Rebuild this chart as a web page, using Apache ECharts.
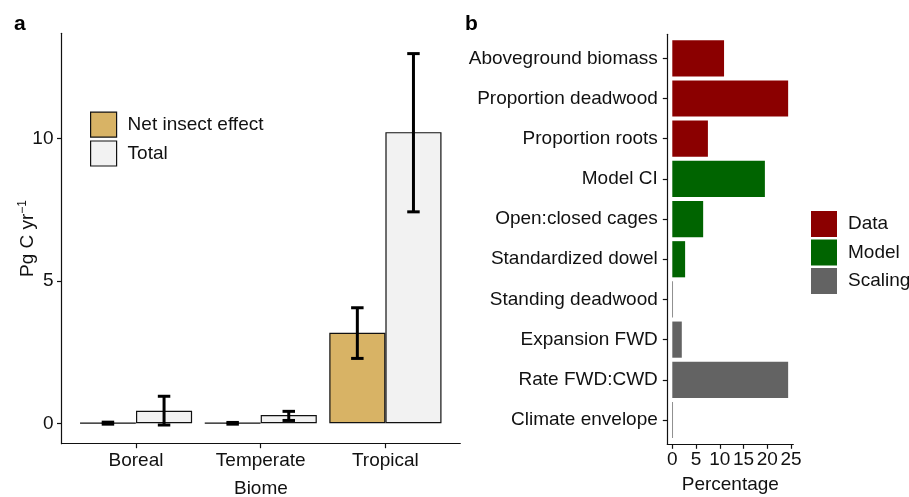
<!DOCTYPE html>
<html>
<head>
<meta charset="utf-8">
<script src="https://cdn.jsdelivr.net/npm/echarts@6/dist/echarts.min.js"></script>
<style>
  html, body { margin: 0; padding: 0; background: #ffffff; }
  #chart { width: 909px; height: 497px; }
</style>
</head>
<body>
<div id="chart"></div>
<script>
// Panel a: annual carbon flux by biome
const biomes = ['Boreal', 'Temperate', 'Tropical'];
const netEffect = [0.01, 0.01, 3.18];
const netLow = [-0.03, -0.03, 2.28];
const netHigh = [0.04, 0.03, 4.06];
const totalFlux = [0.44, 0.29, 10.23];
const totalLow = [-0.06, 0.10, 7.43];
const totalHigh = [0.95, 0.42, 12.99];

// Panel b: contribution of each uncertainty source
const sources = ['Aboveground biomass', 'Proportion deadwood', 'Proportion roots', 'Model CI',
  'Open:closed cages', 'Standardized dowel', 'Standing deadwood', 'Expansion FWD',
  'Rate FWD:CWD', 'Climate envelope'];
const sourceGroup = ['Data', 'Data', 'Data', 'Model', 'Model', 'Model',
  'Scaling', 'Scaling', 'Scaling', 'Scaling'];
const percentage = [10.9, 24.4, 7.5, 19.5, 6.5, 2.7, 0.15, 2.0, 24.4, 0.15];
const groupNames = ['Data', 'Model', 'Scaling'];
const groupColors = ['#8B0000', '#006400', '#636363'];

const FONT = '"Liberation Sans", Arial, Helvetica, sans-serif';
const INK = '#111111';
const FS = 19;

const chart = echarts.init(document.getElementById('chart'), null, { renderer: 'canvas' });

const lineOnly = { show: true, onZero: false, lineStyle: { color: INK, width: 1.2 } };
const noLine = { show: false, onZero: false };
const hidden = { show: false };

// error bar rows: [category index, low, high, dodge slot]
const errRows = [];
biomes.forEach((_, i) => {
  errRows.push([i, netLow[i], netHigh[i], 0]);
  errRows.push([i, totalLow[i], totalHigh[i], 1]);
});

// grids keep their exact box even when labels reach the canvas edge
const fixedGrid = (box) => Object.assign({ containLabel: false, outerBoundsMode: 'none' }, box);

const option = {
  backgroundColor: '#ffffff',
  animation: false,
  textStyle: { fontFamily: FONT, color: INK },
  title: [
    { text: 'a', left: 9, top: 9, textStyle: { fontFamily: FONT, fontSize: 21, fontWeight: 'bold', color: '#000' } },
    { text: 'b', left: 460, top: 9, textStyle: { fontFamily: FONT, fontSize: 21, fontWeight: 'bold', color: '#000' } }
  ],
  grid: [
    // a: frame holding the axis lines
    fixedGrid({ left: 61.5, top: 33.3, width: 398.8, height: 410.4 }),
    // a: plotting area with the category bands
    fixedGrid({ left: 73.65, top: 138.7, width: 374.1, height: 284.6 }),
    // b: frame
    fixedGrid({ left: 667.3, top: 34.3, width: 126, height: 410 }),
    // b: plotting area
    fixedGrid({ left: 672.3, top: 38.2, width: 118.7, height: 401.9 })
  ],
  xAxis: [
    { gridIndex: 0, type: 'value', min: 0, max: 1, axisLine: lineOnly, axisTick: hidden,
      axisLabel: hidden, splitLine: hidden,
      name: 'Biome', nameLocation: 'middle', nameGap: 36,
      nameTextStyle: { fontFamily: FONT, fontSize: FS, color: INK } },
    { gridIndex: 1, type: 'category', data: biomes, offset: 20.4,
      axisLine: noLine,
      axisTick: { show: true, alignWithLabel: true, length: 4.5, lineStyle: { color: INK, width: 1.2 } },
      axisLabel: { fontFamily: FONT, fontSize: FS, color: INK, margin: 7.5 },
      splitLine: hidden },
    { gridIndex: 2, type: 'value', min: 0, max: 1, axisLine: lineOnly, axisTick: hidden,
      axisLabel: hidden, splitLine: hidden,
      name: 'Percentage', nameLocation: 'middle', nameGap: 31,
      nameTextStyle: { fontFamily: FONT, fontSize: FS, color: INK } },
    { gridIndex: 3, type: 'value', min: 0, max: 25, interval: 5, offset: 4.2,
      axisLine: noLine,
      axisTick: { show: true, length: 4.5, lineStyle: { color: INK, width: 1.2 } },
      axisLabel: { fontFamily: FONT, fontSize: FS, color: INK, margin: 6 },
      splitLine: hidden }
  ],
  yAxis: [
    { gridIndex: 0, type: 'value', min: 0, max: 1, axisLine: lineOnly, axisTick: hidden,
      axisLabel: hidden, splitLine: hidden,
      name: '{a|Pg C yr}{s|−1}', nameLocation: 'middle', nameGap: 23, nameRotate: 90,
      nameTextStyle: {
        fontFamily: FONT, color: INK,
        rich: {
          a: { fontFamily: FONT, fontSize: FS, color: INK, lineHeight: 22 },
          s: { fontFamily: FONT, fontSize: 12, color: INK, lineHeight: 12, verticalAlign: 'top' }
        }
      } },
    { gridIndex: 1, type: 'value', min: 0, max: 10, interval: 5, offset: 12.15,
      axisLine: noLine,
      axisTick: { show: true, length: 4.5, lineStyle: { color: INK, width: 1.2 } },
      axisLabel: { fontFamily: FONT, fontSize: FS, color: INK, margin: 8 },
      splitLine: hidden },
    { gridIndex: 2, type: 'value', min: 0, max: 1, axisLine: lineOnly, axisTick: hidden,
      axisLabel: hidden, splitLine: hidden },
    { gridIndex: 3, type: 'category', data: sources, inverse: true, offset: 5,
      axisLine: noLine,
      axisTick: { show: true, alignWithLabel: true, length: 4.5, lineStyle: { color: INK, width: 1.2 } },
      axisLabel: { fontFamily: FONT, fontSize: FS, color: INK, margin: 9.5 },
      splitLine: hidden }
  ],
  legend: [
    {
      data: [
        { name: 'Net insect effect', itemStyle: { color: '#D8B365', borderColor: INK, borderWidth: 1.2 } },
        { name: 'Total', itemStyle: { color: '#F2F2F2', borderColor: INK, borderWidth: 1.2 } }
      ],
      orient: 'vertical', left: 90, top: 111.5, padding: 0,
      itemWidth: 26, itemHeight: 25, itemGap: 2.7, icon: 'rect',
      selectedMode: false,
      textStyle: { fontFamily: FONT, fontSize: FS, color: INK, padding: [0, 0, 0, 6] }
    },
    {
      data: groupNames.map((n, i) => ({ name: n, itemStyle: { color: groupColors[i], borderWidth: 0 } })),
      orient: 'vertical', left: 811, top: 211, padding: 0,
      itemWidth: 26, itemHeight: 26, itemGap: 2.5, icon: 'rect',
      selectedMode: false,
      textStyle: { fontFamily: FONT, fontSize: FS, color: INK, padding: [0, 0, 0, 6] }
    }
  ],
  series: [
    {
      name: 'Net insect effect', type: 'bar', xAxisIndex: 1, yAxisIndex: 1,
      data: netEffect, barWidth: 56.1, barGap: '0%', clip: false,
      itemStyle: { color: '#D8B365', borderColor: INK, borderWidth: 1.2 }
    },
    {
      name: 'Total', type: 'bar', xAxisIndex: 1, yAxisIndex: 1,
      data: totalFlux, barWidth: 56.1, barGap: '0%', clip: false,
      itemStyle: { color: '#F2F2F2', borderColor: INK, borderWidth: 1.2 }
    },
    {
      name: 'errors', type: 'custom', xAxisIndex: 1, yAxisIndex: 1, clip: false, z: 5,
      data: errRows,
      renderItem: function (params, api) {
        const band = api.size([1, 0])[0];
        const shift = (api.value(3) === 0 ? -0.225 : 0.225) * band;
        const top = api.coord([api.value(0), api.value(2)]);
        const bot = api.coord([api.value(0), api.value(1)]);
        const x = top[0] + shift;
        const half = 0.05 * band;
        const style = { stroke: '#000', lineWidth: 3, fill: null };
        return {
          type: 'group',
          children: [
            { type: 'line', shape: { x1: x, y1: top[1], x2: x, y2: bot[1] }, style: style },
            { type: 'line', shape: { x1: x - half, y1: top[1], x2: x + half, y2: top[1] }, style: style },
            { type: 'line', shape: { x1: x - half, y1: bot[1], x2: x + half, y2: bot[1] }, style: style }
          ]
        };
      }
    }
  ].concat(groupNames.map((g, gi) => ({
    name: g, type: 'bar', xAxisIndex: 3, yAxisIndex: 3, stack: 'share',
    barWidth: '90%',
    data: percentage.map((v, i) => sourceGroup[i] === g ? v : '-'),
    itemStyle: { color: groupColors[gi] }
  })))
};

chart.setOption(option);
</script>
</body>
</html>
